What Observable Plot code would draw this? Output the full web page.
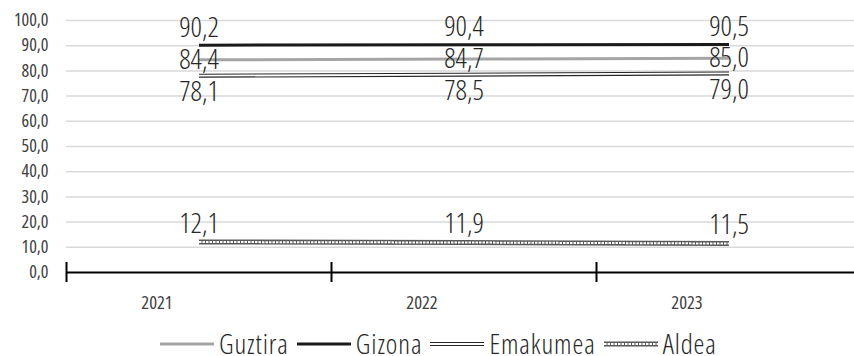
<!DOCTYPE html>
<html>
<head>
<meta charset="utf-8">
<script src="https://cdn.jsdelivr.net/npm/d3@7"></script>
<script src="https://cdn.jsdelivr.net/npm/@observablehq/plot@0.6"></script>
<style>
  html, body { margin: 0; padding: 0; background: #fff; width: 854px; height: 356px; overflow: hidden; }
  #wrap { position: relative; width: 854px; height: 356px; }
  #legend { position: absolute; left: 160px; top: 331px; height: 26px; display: flex; align-items: center; white-space: nowrap;
    font-family: "Open Sans", sans-serif; font-stretch: 75%; font-weight: 300; line-height: 26px;
    font-size: 27.5px; letter-spacing: 0.9px; color: #262626; }
  #legend .item { display: flex; align-items: center; margin-right: 8px; }
  #legend svg { display: block; margin-right: 5px; }
</style>
</head>
<body>
<div id="wrap"><div id="chart"></div><div id="legend"></div></div>
<script>
const years = ["2021", "2022", "2023"];
const seriesNames = ["Guztira", "Gizona", "Emakumea", "Aldea"];
const guztira = [84.4, 84.7, 85.0];
const gizona = [90.2, 90.4, 90.5];
const emakumea = [78.1, 78.5, 79.0];
const aldea = [12.1, 11.9, 11.5];
const yTicks = [0, 10, 20, 30, 40, 50, 60, 70, 80, 90, 100];

const values = {Guztira: guztira, Gizona: gizona, Emakumea: emakumea, Aldea: aldea};
const rows = seriesNames.flatMap(s => values[s].map((v, i) => ({series: s, i, year: years[i], value: v})));
const of = s => rows.filter(d => d.series === s);
const fmt = v => d3.format(".1f")(v).replace(".", ",");
const FONT = '"Open Sans", sans-serif';
const X = d => d.i + 0.5;
const bounds = d3.range(years.length + 1);
const labelOpts = {x: X, y: "value", text: d => fmt(d.value), fontSize: 28, fontWeight: 300, fill: "#262626"};

const chart = Plot.plot({
  width: 854,
  height: 330,
  marginLeft: 66,
  marginRight: 0,
  marginTop: 20,
  marginBottom: 58,
  style: {fontFamily: FONT, fontStretch: "75%", background: "#fff", overflow: "visible"},
  x: {domain: [0, years.length], range: [66, 861]},
  y: {domain: [0, 100]},
  marks: [
    Plot.ruleY(yTicks.filter(t => t > 0), {stroke: "#d9d9d9", strokeWidth: 1.5}),
    Plot.axisY({ticks: yTicks, tickSize: 0, tickPadding: 18, tickFormat: fmt, fontSize: 18, fill: "#404040", label: null}),
    Plot.axisX({ticks: years.map((y, i) => i + 0.5), tickSize: 0, tickPadding: 23, tickFormat: t => years[Math.floor(t)], fontSize: 18.5, fill: "#404040", dx: -42, label: null}),
    Plot.ruleY([0], {stroke: "#000", strokeWidth: 2}),
    Plot.ruleX(bounds, {x: d => d, y1: 0, y2: 0, insetTop: -10, insetBottom: -10, stroke: "#000", strokeWidth: 2}),
    // Aldea (compound dotted line)
    Plot.line(of("Aldea"), {x: X, y: "value", stroke: "#595959", strokeWidth: 5, strokeLinecap: "butt"}),
    Plot.line(of("Aldea"), {x: X, y: "value", stroke: "#fff", strokeWidth: 2, strokeDasharray: "2.5,1", strokeLinecap: "butt"}),
    // Emakumea (double line)
    Plot.line(of("Emakumea"), {x: X, y: "value", stroke: "#262626", strokeWidth: 4, strokeLinecap: "butt"}),
    Plot.line(of("Emakumea"), {x: X, y: "value", stroke: "#fff", strokeWidth: 1.8, strokeLinecap: "butt"}),
    // Guztira
    Plot.line(of("Guztira"), {x: X, y: "value", stroke: "#a5a5a5", strokeWidth: 3, strokeLinecap: "butt"}),
    // Gizona
    Plot.line(of("Gizona"), {x: X, y: "value", stroke: "#1a1a1a", strokeWidth: 3, strokeLinecap: "butt"}),
    // labels
    Plot.text(of("Gizona"), {...labelOpts, dy: -17.5}),
    Plot.text(of("Guztira"), {...labelOpts, dy: 0}),
    Plot.text(of("Emakumea"), {...labelOpts, dy: 16.5}),
    Plot.text(of("Aldea"), {...labelOpts, dy: -18})
  ]
});
document.getElementById("chart").appendChild(chart);

// Legend
const styles = {
  Guztira: [{stroke: "#a5a5a5", w: 3}],
  Gizona: [{stroke: "#1a1a1a", w: 3}],
  Emakumea: [{stroke: "#262626", w: 4}, {stroke: "#fff", w: 1.8}],
  Aldea: [{stroke: "#595959", w: 5}, {stroke: "#fff", w: 2, dash: "2.5,1"}]
};
const legend = d3.select("#legend");
seriesNames.forEach(s => {
  const item = legend.append("div").attr("class", "item");
  const svg = item.append("svg").attr("width", 54).attr("height", 10);
  styles[s].forEach(st => {
    svg.append("line").attr("x1", 0).attr("x2", 54).attr("y1", 5).attr("y2", 5)
      .attr("stroke", st.stroke).attr("stroke-width", st.w).attr("stroke-dasharray", st.dash || null);
  });
  item.append("span").text(s);
});
</script>
</body>
</html>
